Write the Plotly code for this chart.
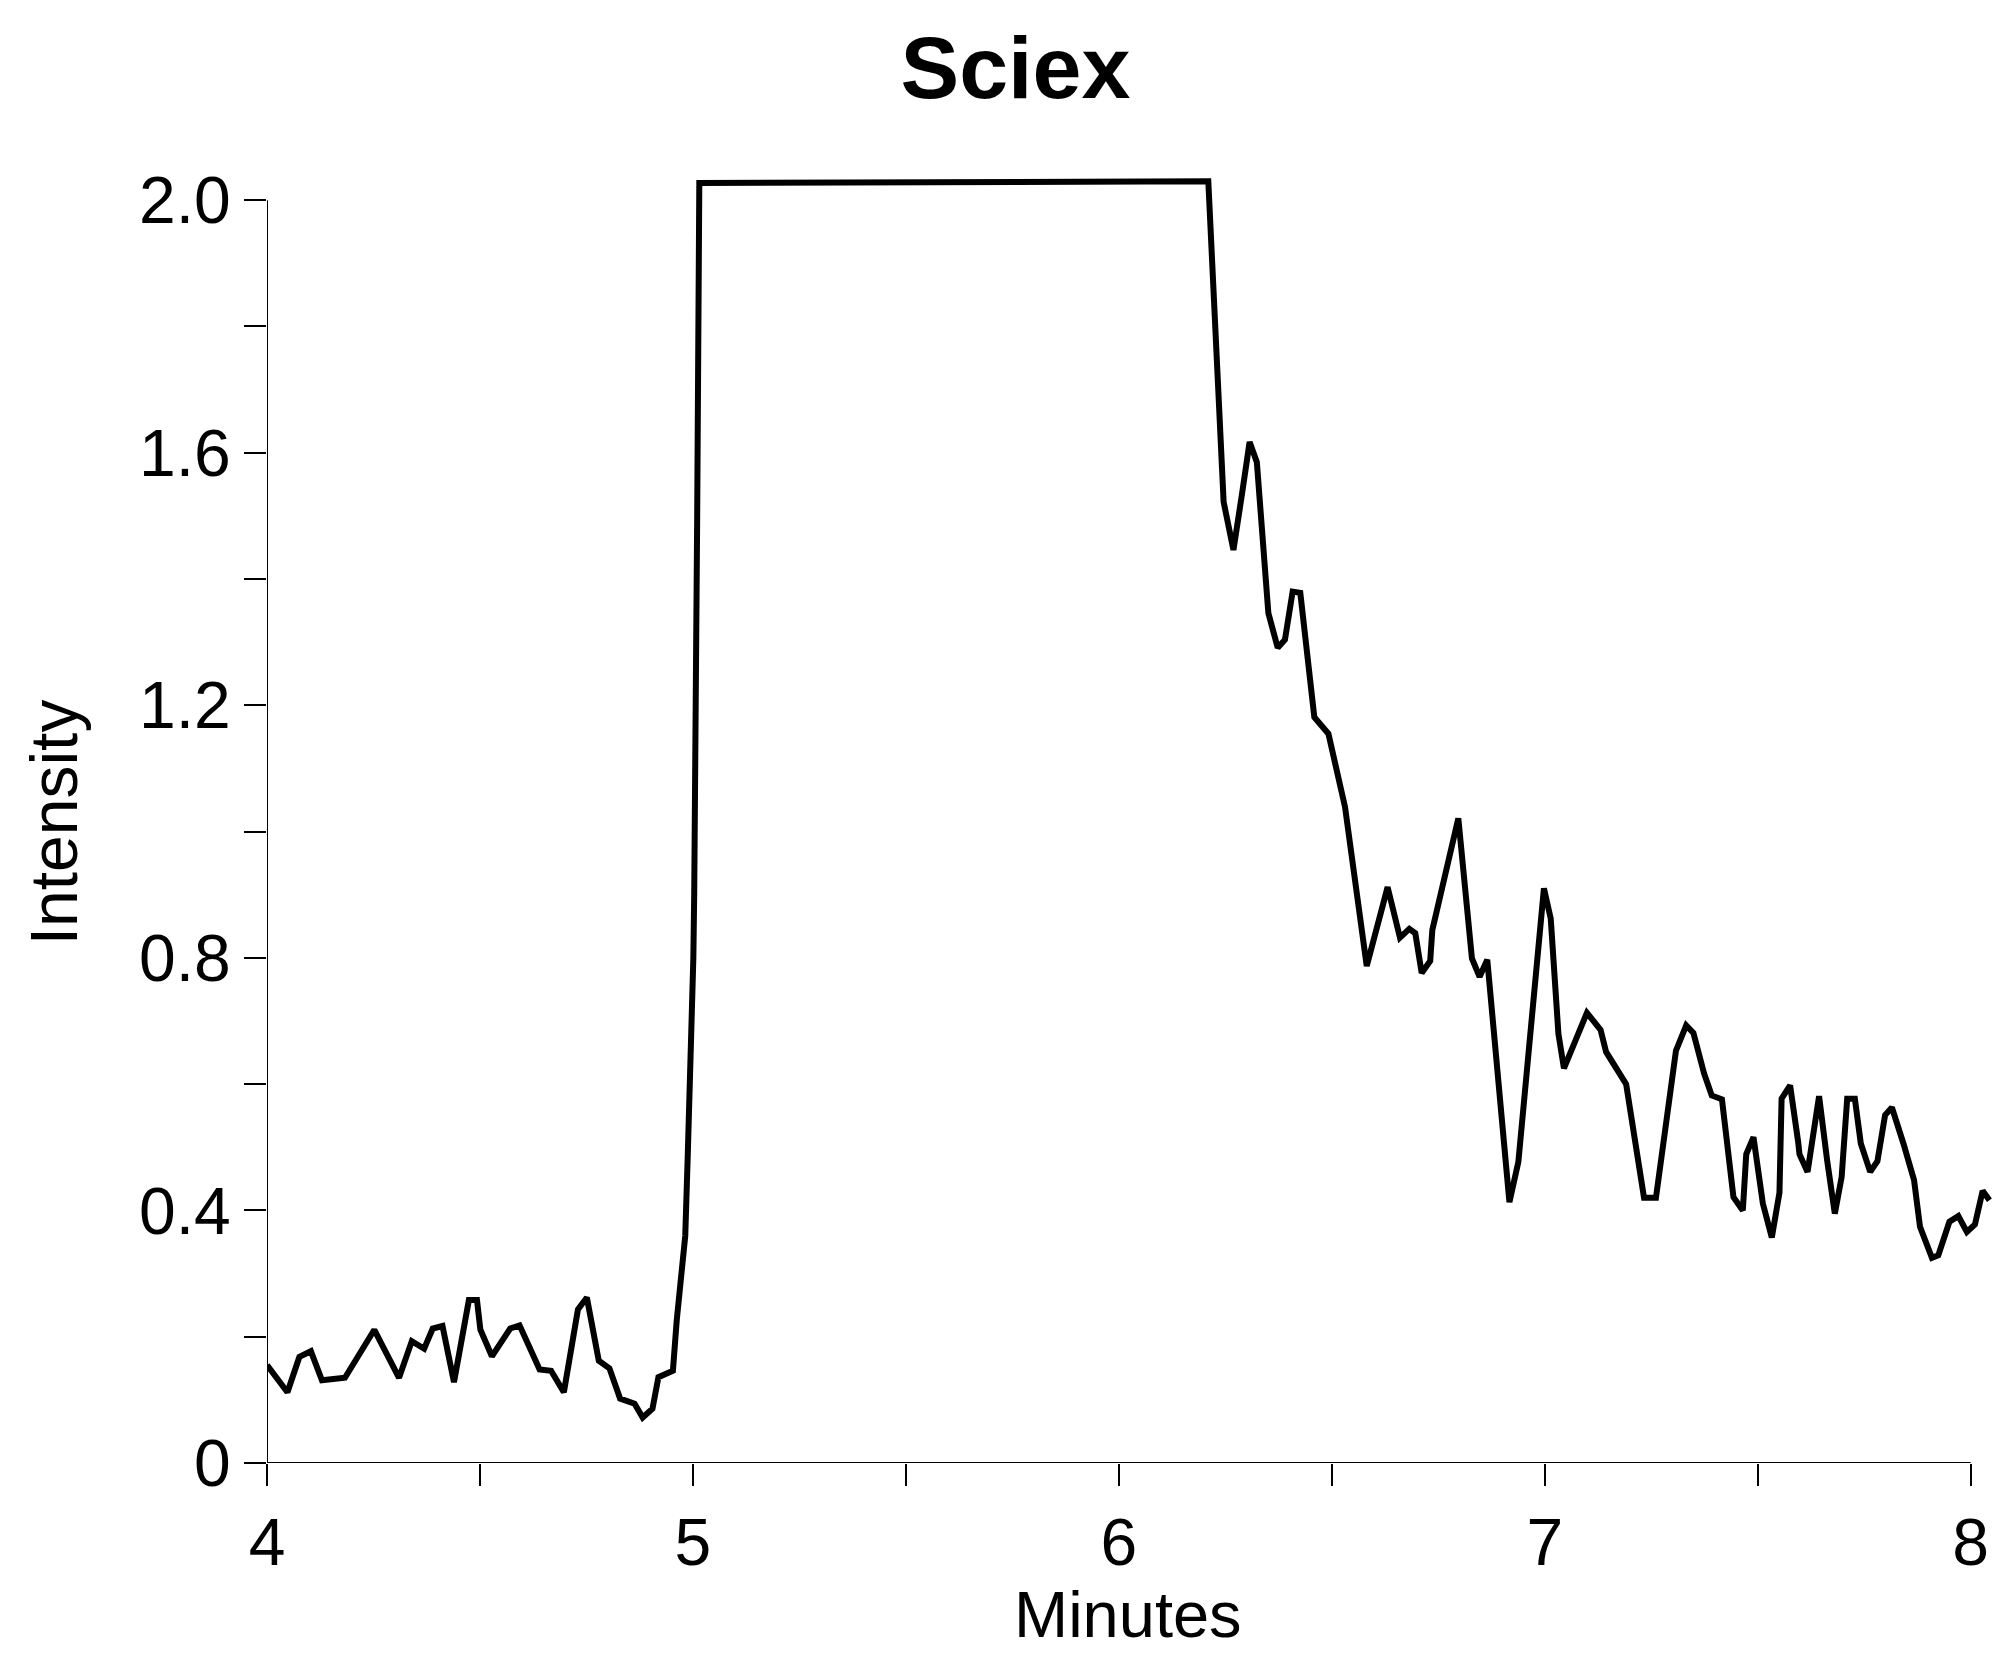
import plotly.graph_objects as go

# ---- data ----
minutes = [4.000, 4.048, 4.076, 4.103, 4.129, 4.183, 4.252, 4.310, 4.340, 4.369,
           4.389, 4.412, 4.439, 4.474, 4.493, 4.501, 4.528, 4.571, 4.593, 4.640,
           4.667, 4.697, 4.730, 4.751, 4.779, 4.804, 4.829, 4.863, 4.882, 4.905,
           4.919, 4.953, 4.962, 4.972, 4.982, 4.988, 4.994, 4.997, 5.001, 5.003,
           5.006, 5.010, 5.015, 6.210, 6.246, 6.269, 6.289, 6.307, 6.324, 6.338,
           6.351, 6.373, 6.390, 6.408, 6.426, 6.459, 6.492, 6.531, 6.582, 6.631,
           6.660, 6.682, 6.696, 6.711, 6.731, 6.736, 6.797, 6.829, 6.847, 6.865,
           6.905, 6.917, 6.938, 6.998, 7.014, 7.032, 7.045, 7.099, 7.131, 7.144,
           7.191, 7.233, 7.261, 7.308, 7.332, 7.349, 7.374, 7.392, 7.416, 7.443,
           7.465, 7.473, 7.490, 7.512, 7.533, 7.551, 7.556, 7.576, 7.595, 7.598,
           7.617, 7.644, 7.663, 7.681, 7.697, 7.710, 7.728, 7.742, 7.764, 7.781,
           7.799, 7.815, 7.842, 7.867, 7.881, 7.909, 7.924, 7.950, 7.971, 7.991,
           8.010, 8.028, 8.044]

intensity = [0.155, 0.112, 0.168, 0.177, 0.131, 0.135, 0.211, 0.135, 0.193, 0.181,
             0.213, 0.217, 0.128, 0.258, 0.258, 0.211, 0.169, 0.213, 0.218, 0.148,
             0.146, 0.112, 0.243, 0.262, 0.162, 0.150, 0.102, 0.094, 0.072, 0.086,
             0.136, 0.146, 0.226, 0.289, 0.360, 0.490, 0.620, 0.700, 0.800, 0.900,
             1.100, 1.500, 2.027, 2.030, 1.522, 1.446, 1.534, 1.617, 1.585, 1.443,
             1.346, 1.291, 1.304, 1.380, 1.378, 1.181, 1.155, 1.039, 0.787, 0.912,
             0.832, 0.846, 0.839, 0.776, 0.795, 0.844, 1.021, 0.799, 0.770, 0.797,
             0.490, 0.413, 0.477, 0.910, 0.862, 0.680, 0.625, 0.713, 0.686, 0.651,
             0.600, 0.420, 0.420, 0.653, 0.693, 0.681, 0.617, 0.582, 0.576, 0.421,
             0.400, 0.489, 0.516, 0.411, 0.357, 0.428, 0.577, 0.598, 0.508, 0.489,
             0.461, 0.581, 0.479, 0.395, 0.453, 0.577, 0.577, 0.506, 0.461, 0.478,
             0.551, 0.563, 0.506, 0.448, 0.374, 0.325, 0.329, 0.382, 0.391, 0.366,
             0.378, 0.431, 0.416]

x_tick_vals = [4, 4.5, 5, 5.5, 6, 6.5, 7, 7.5, 8]
x_tick_labels = ["4", "", "5", "", "6", "", "7", "", "8"]
y_tick_vals = [0, 0.2, 0.4, 0.6, 0.8, 1.0, 1.2, 1.4, 1.6, 1.8, 2.0]
y_tick_labels = ["0", "", "0.4", "", "0.8", "", "1.2", "", "1.6", "", "2.0"]

title_text = "Sciex"
x_title = "Minutes"
y_title = "Intensity"

FONT = "Liberation Sans, Arial, Helvetica, sans-serif"

fig = go.Figure()
fig.add_trace(go.Scatter(
    x=minutes, y=intensity, mode="lines",
    line=dict(color="black", width=6),
    showlegend=False, hoverinfo="skip",
))

# axis lines limited to the labelled span
fig.add_shape(type="line", xref="x", yref="y", x0=x_tick_vals[0], x1=x_tick_vals[-1],
              y0=0, y1=0, line=dict(color="black", width=2), layer="above")
fig.add_shape(type="line", xref="x", yref="y", x0=x_tick_vals[0], x1=x_tick_vals[0],
              y0=y_tick_vals[0], y1=y_tick_vals[-1], line=dict(color="black", width=2),
              layer="above")

fig.update_layout(
    width=2008, height=1659,
    margin=dict(l=267, r=16, t=137, b=196, pad=0),
    paper_bgcolor="white", plot_bgcolor="white",
    font=dict(family=FONT, color="black", size=66),
    title=dict(text="<b>%s</b>" % title_text, font=dict(size=88, family=FONT, color="black"),
               xref="paper", x=0.4339, xanchor="center",
               yref="container", y=1 - 67 / 1659, yanchor="middle"),
    xaxis=dict(range=[4, 8.05], showgrid=False, zeroline=False, showline=False,
               tickmode="array", tickvals=x_tick_vals, ticktext=x_tick_labels,
               ticks="outside", ticklen=22, tickwidth=2, tickcolor="black",
               tickfont=dict(size=66, family=FONT, color="black")),
    yaxis=dict(range=[0, 2.1], showgrid=False, zeroline=False, showline=False,
               tickmode="array", tickvals=y_tick_vals, ticktext=y_tick_labels,
               ticks="outside", ticklen=22, tickwidth=2, tickcolor="black",
               tickfont=dict(size=66, family=FONT, color="black")),
    annotations=[
        dict(text=x_title, xref="paper", yref="paper", x=0.4991, y=-0.1146,
             xanchor="center", yanchor="middle", showarrow=False,
             font=dict(size=65, family=FONT, color="black")),
        dict(text=y_title, xref="paper", yref="paper", x=-0.1236, y=0.483,
             xanchor="center", yanchor="middle", textangle=-90, showarrow=False,
             font=dict(size=66, family=FONT, color="black")),
    ],
)

fig.write_html("out.html")
